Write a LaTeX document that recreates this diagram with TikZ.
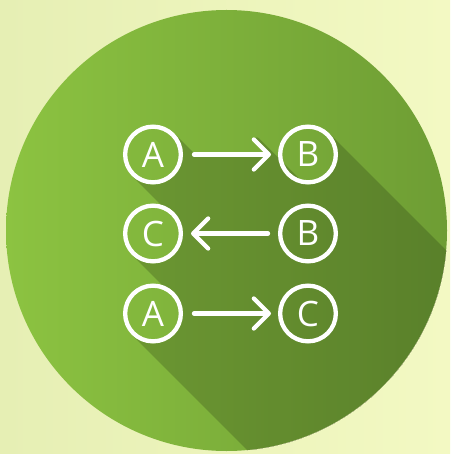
\documentclass[tikz,border=0pt]{standalone}
\usepackage{fontspec}
\setmainfont{Open Sans}
\usetikzlibrary{arrows.meta,calc}
\definecolor{bgL}{RGB}{230,239,180}
\definecolor{bgR}{RGB}{243,249,195}
\definecolor{gL}{RGB}{140,195,65}
\definecolor{gR}{RGB}{110,157,52}
\tikzset{
  letter/.style={circle, draw=white, line width=4.3pt, minimum size=55.7pt, inner sep=0pt,
    text=white, font=\fontsize{35}{35}\selectfont},
  arr/.style={draw=white, line width=4.3pt, line cap=round,
    -{Straight Barb[length=15pt,width=30pt,round]}},
  segshadow/.style={fill=black, draw=black, line width=4.3pt, line join=round},
  diskshadow/.style={fill=black},
}
\newcommand\diskshade[1]{%
  \path[diskshadow] ($(#1)+(-45:30)$) arc[start angle=-45,end angle=135,radius=30]
    -- ++(400,400) -- ($(#1)+(-45:30)+(400,400)$) -- cycle;}
\newcommand\segshade[2]{%
  \path[segshadow] (#1) -- (#2) -- ($(#2)+(400,400)$) -- ($(#1)+(400,400)$) -- cycle;}
\begin{document}
\begin{tikzpicture}[x=1pt,y=-1pt]
\useasboundingbox (0,0) rectangle (450,454);
\shade[left color=bgL,right color=bgR] (0,0) rectangle (450,454);
\coordinate (O) at (226.5,230.5);
\shade[left color=gL,right color=gR] (O) circle (220.5);
% centres
\coordinate (pA1) at (153,154.5);
\coordinate (pB1) at (308,154.5);
\coordinate (pC2) at (153,233.5);
\coordinate (pB2) at (308,233.5);
\coordinate (pA3) at (153,313.5);
\coordinate (pC3) at (308,313.5);
% arrow geometry for the shadow
\coordinate (s1a) at ($(pA1)+(39,0)$);
\coordinate (s1b) at ($(pB1)+(-37,0)$);
\coordinate (h1u) at ($(pB1)+(-51,-15)$);
\coordinate (h1d) at ($(pB1)+(-51,15)$);
\coordinate (s2a) at ($(pB2)+(-37,0)$);
\coordinate (s2b) at ($(pC2)+(38,0)$);
\coordinate (h2u) at ($(pC2)+(53,-15)$);
\coordinate (h2d) at ($(pC2)+(53,15)$);
\coordinate (s3a) at ($(pA3)+(39,0)$);
\coordinate (s3b) at ($(pC3)+(-37,0)$);
\coordinate (h3u) at ($(pC3)+(-51,-15)$);
\coordinate (h3d) at ($(pC3)+(-51,15)$);
% long shadow
\begin{scope}
  \clip (O) circle (220.5);
  \begin{scope}[transparency group, opacity=0.18]
    \diskshade{pA1}\diskshade{pB1}\diskshade{pC2}
    \diskshade{pB2}\diskshade{pA3}\diskshade{pC3}
    \segshade{s1a}{s1b}\segshade{h1u}{s1b}\segshade{s1b}{h1d}
    \segshade{s2b}{s2a}\segshade{h2u}{s2b}\segshade{s2b}{h2d}
    \segshade{s3a}{s3b}\segshade{h3u}{s3b}\segshade{s3b}{h3d}
  \end{scope}
\end{scope}
% icon
\node[letter] (A1) at (pA1) {A};
\node[letter] (B1) at (pB1) {B};
\node[letter] (C2) at (pC2) {C};
\node[letter] (B2) at (pB2) {B};
\node[letter] (A3) at (pA3) {A};
\node[letter] (C3) at (pC3) {C};
\draw[arr, shorten <=11pt, shorten >=7pt] (A1) -- (B1);
\draw[arr, shorten <=10pt, shorten >=8pt] (B2) -- (C2);
\draw[arr, shorten <=11pt, shorten >=7pt] (A3) -- (C3);
\end{tikzpicture}
\end{document}
